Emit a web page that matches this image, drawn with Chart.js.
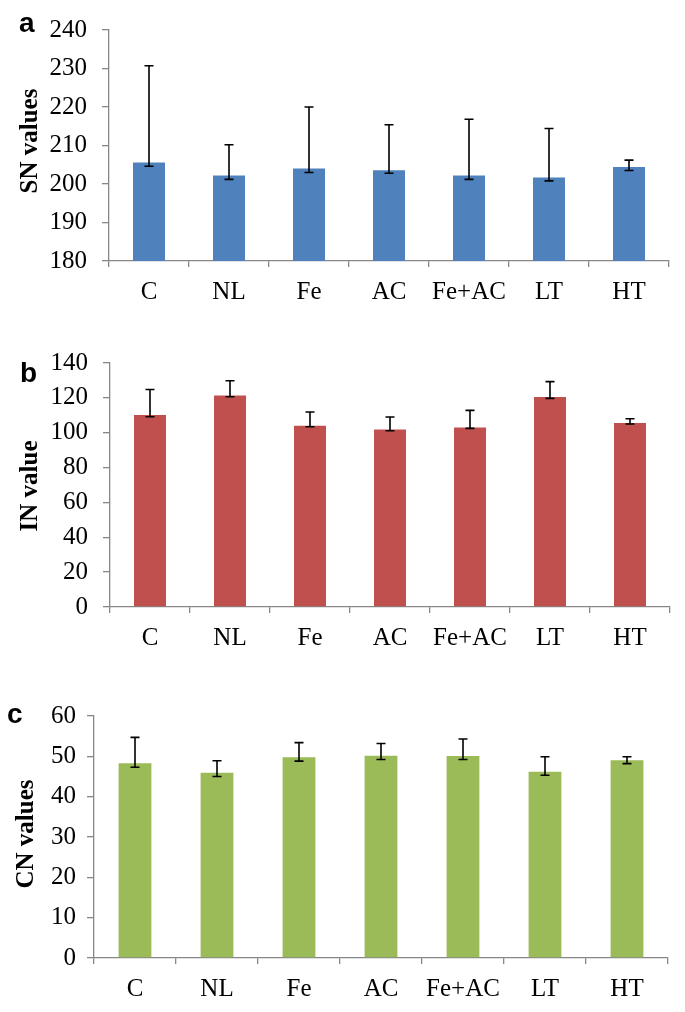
<!DOCTYPE html>
<html><head><meta charset="utf-8">
<script src="https://cdn.jsdelivr.net/npm/chart.js@4.4.1/dist/chart.umd.min.js"></script>
<style>
html,body{margin:0;padding:0;background:#fff;width:685px;height:1012px;overflow:hidden}
.panel{position:absolute;left:0;width:685px}
</style></head><body>
<div class="panel" style="top:0;height:320px"><canvas id="ca"></canvas></div>
<div class="panel" style="top:330px;height:340px"><canvas id="cb"></canvas></div>
<div class="panel" style="top:690px;height:322px"><canvas id="cc"></canvas></div>
<script>
const categories = ['C', 'NL', 'Fe', 'AC', 'Fe+AC', 'LT', 'HT'];

const snValues  = [205.6, 202.2, 204.0, 203.6, 202.2, 201.7, 204.4];
const snErrLow  = [204.6, 201.2, 203.0, 202.8, 201.2, 200.8, 203.5];
const snErrHigh = [230.7, 210.2, 220.0, 215.4, 216.8, 214.4, 206.2];
const snTicks   = [180, 190, 200, 210, 220, 230, 240];

const inValues  = [110.2, 121.4, 104.0, 101.9, 103.0, 120.5, 105.6];
const inErrLow  = [109.2, 120.6, 103.4, 101.1, 102.5, 119.7, 105.0];
const inErrHigh = [124.8, 129.8, 111.9, 109.0, 112.8, 129.3, 108.0];
const inTicks   = [0, 20, 40, 60, 80, 100, 120, 140];

const cnValues  = [48.3, 45.9, 49.75, 50.15, 50.1, 46.2, 49.0];
const cnErrLow  = [47.3, 45.0, 48.8, 49.2, 49.2, 45.3, 48.2];
const cnErrHigh = [54.7, 48.9, 53.4, 53.2, 54.3, 49.9, 49.9];
const cnTicks   = [0, 10, 20, 30, 40, 50, 60];

const AXIS = '#878787';
const SERIF = '"Liberation Serif", "Times New Roman", serif';

function makePanel(id, p) {
  const errorBars = {
    id: 'errorBars_' + id,
    afterDatasetsDraw(chart) {
      const meta = chart.getDatasetMeta(0);
      const ys = chart.scales.y;
      const ctx = chart.ctx;
      ctx.save();
      ctx.strokeStyle = '#000';
      ctx.lineWidth = 1.6;
      meta.data.forEach((bar, i) => {
        const x = bar.x;
        const y1 = ys.getPixelForValue(p.low[i]);
        const y2 = ys.getPixelForValue(p.high[i]);
        ctx.beginPath();
        ctx.moveTo(x, y1); ctx.lineTo(x, y2);
        ctx.moveTo(x - 4.5, y1); ctx.lineTo(x + 4.5, y1);
        ctx.moveTo(x - 4.5, y2); ctx.lineTo(x + 4.5, y2);
        ctx.stroke();
      });
      ctx.restore();
    }
  };
  const titles = {
    id: 'titles_' + id,
    afterDraw(chart) {
      const ctx = chart.ctx;
      ctx.save();
      ctx.fillStyle = '#000';
      ctx.textBaseline = 'alphabetic';
      ctx.textAlign = 'left';
      ctx.font = 'bold 28px "Liberation Sans", Arial, sans-serif';
      ctx.fillText(p.letter, p.letterPos[0], p.letterPos[1]);
      ctx.translate(p.titlePos[0], p.titlePos[1]);
      ctx.rotate(-Math.PI / 2);
      ctx.textAlign = 'center';
      ctx.font = 'bold 25px ' + SERIF;
      ctx.fillText(p.title, 0, 0);
      ctx.restore();
    }
  };
  return new Chart(document.getElementById(id), {
    type: 'bar',
    data: {
      labels: categories,
      datasets: [{
        data: p.values,
        backgroundColor: p.color,
        borderWidth: 0,
        barPercentage: 0.4,
        categoryPercentage: 1.0
      }]
    },
    options: {
      responsive: true,
      maintainAspectRatio: false,
      animation: false,
      layout: { padding: { left: 0, bottom: 0, top: p.top, right: p.right } },
      plugins: { legend: { display: false }, tooltip: { enabled: false } },
      scales: {
        x: {
          afterFit(s) { s.height = p.bottom; },
          grid: { drawOnChartArea: false, drawTicks: true, tickLength: 6, color: AXIS, lineWidth: 1.3 },
          border: { display: true, color: AXIS, width: 1.3 },
          ticks: { color: '#000', font: { family: SERIF, size: 25 }, padding: p.xPad, maxRotation: 0, autoSkip: false }
        },
        y: {
          min: p.ticks[0],
          max: p.ticks[p.ticks.length - 1],
          afterFit(s) { s.width = p.left; },
          afterBuildTicks(s) { s.ticks = p.ticks.map(v => ({ value: v })); },
          grid: { drawOnChartArea: false, drawTicks: true, tickLength: 7, color: AXIS, lineWidth: 1.3 },
          border: { display: true, color: AXIS, width: 1.3 },
          ticks: { color: '#000', font: { family: SERIF, size: 25 }, padding: p.yPad }
        }
      }
    },
    plugins: [errorBars, titles]
  });
}

makePanel('ca', {
  values: snValues, low: snErrLow, high: snErrHigh, ticks: snTicks, color: '#4F81BD',
  letter: 'a', letterPos: [19, 32], title: 'SN values', titlePos: [37, 141],
  left: 109, right: 16, top: 19, bottom: 59, xPad: 10, yPad: 15
});
makePanel('cb', {
  values: inValues, low: inErrLow, high: inErrHigh, ticks: inTicks, color: '#C0504D',
  letter: 'b', letterPos: [20, 51.5], title: 'IN value', titlePos: [37, 156],
  left: 110, right: 15, top: 33, bottom: 63, xPad: 10, yPad: 15
});
makePanel('cc', {
  values: cnValues, low: cnErrLow, high: cnErrHigh, ticks: cnTicks, color: '#9BBB59',
  letter: 'c', letterPos: [7, 33], title: 'CN values', titlePos: [33, 144],
  left: 94, right: 17, top: 21, bottom: 54, xPad: 10, yPad: 11
});
</script>
</body></html>
